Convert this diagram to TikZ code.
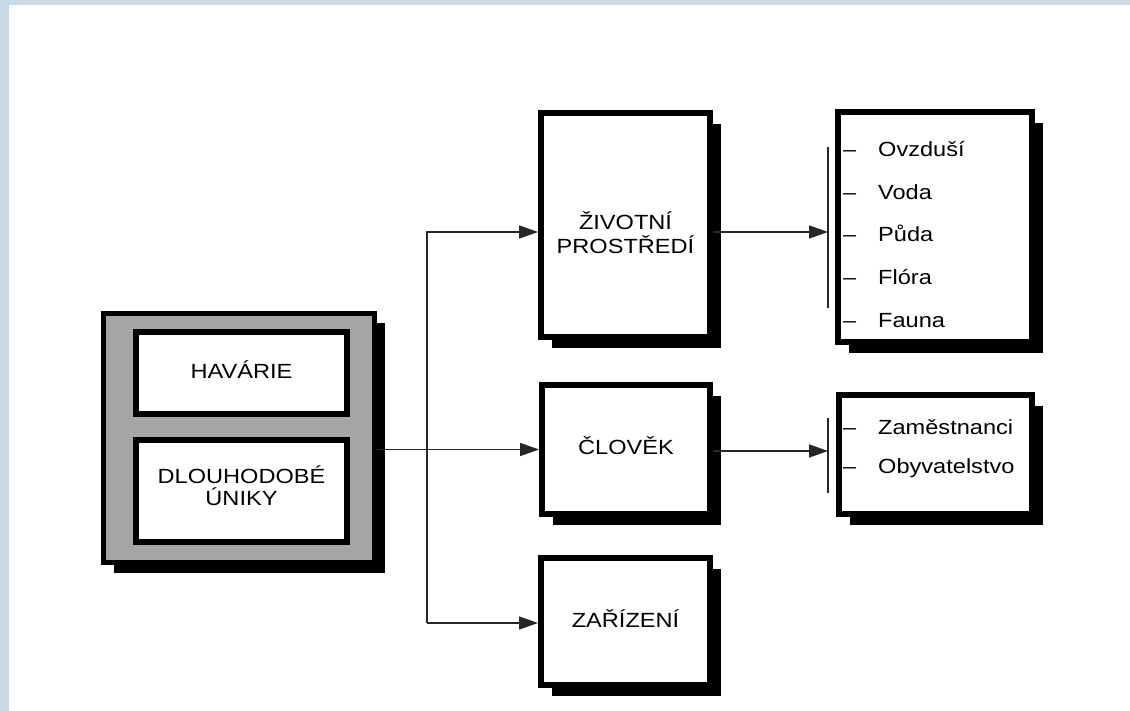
\documentclass[tikz,border=0pt]{standalone}
\usepackage{fontspec}
\setmainfont{Liberation Sans}[FakeStretch=1.15]
\usetikzlibrary{arrows.meta,shadows}
\definecolor{frameblue}{RGB}{201,218,230}
\definecolor{boxgray}{RGB}{165,165,165}
\begin{document}
\begin{tikzpicture}[x=1pt,y=-1pt,
  sbox/.style={rectangle, draw=black, line width=6pt, fill=white, inner sep=0pt,
    drop shadow={shadow xshift=11pt, shadow yshift=-11pt, fill=black, opacity=1}},
  ibox/.style={rectangle, draw=black, line width=6pt, fill=white, inner sep=0pt},
  lbl/.style={font=\fontsize{20.5}{24}\selectfont, inner sep=0pt, anchor=base},
  item/.style={font=\fontsize{20.5}{24}\selectfont, inner sep=0pt, anchor=base west},
  conn/.style={line width=1.6pt, draw=black!85},
  arr/.style={conn, -{Triangle[length=19pt,width=13pt]}},
  bar/.style={line width=1.8pt, draw=black!85}]
\useasboundingbox (0,0) rectangle (1130,711);
\fill[frameblue] (0,0) rectangle (1130,5);
\fill[frameblue] (0,0) rectangle (9,711);

% left composite box
\node[rectangle, draw=black, line width=5pt, fill=boxgray, inner sep=0pt,
  minimum width=271pt, minimum height=249pt,
  drop shadow={shadow xshift=10pt, shadow yshift=-10pt, fill=black, opacity=1}] (main) at (239,438) {};
\node[ibox, minimum width=211pt, minimum height=82pt] (havarie) at (241.5,373) {};
\node[ibox, minimum width=211pt, minimum height=102pt] (dlouho) at (241.5,491) {};
\node[lbl] (thav) at (241.5,378) {HAVÁRIE};
\node[lbl] (tdl1) at (241.5,483) {DLOUHODOBÉ};
\node[lbl] (tdl2) at (241.5,505) {ÚNIKY};

% middle boxes
\node[sbox, minimum width=169pt, minimum height=224pt] (zivot) at (625.5,225) {};
\node[lbl] (tziv1) at (625.5,230) {ŽIVOTNÍ};
\node[lbl] (tziv2) at (625.5,254) {PROSTŘEDÍ};
\node[sbox, minimum width=168pt, minimum height=129pt] (clovek) at (626,449.5) {};
\node[lbl] (tclo) at (626,454) {ČLOVĚK};
\node[sbox, minimum width=169pt, minimum height=127pt] (zarizeni) at (625.5,621.5) {};
\node[lbl] (tzar) at (625.5,627) {ZAŘÍZENÍ};

% right boxes
\node[sbox, minimum width=194pt, minimum height=230pt] (list1) at (935,227) {};
\node[item] (d1) at (843,157) {–};
\node[item] (i1) at (878,157) {Ovzduší};
\node[item] (d2) at (843,199.5) {–};
\node[item] (i2) at (878,199.5) {Voda};
\node[item] (d3) at (843,242) {–};
\node[item] (i3) at (878,242) {Půda};
\node[item] (d4) at (843,284.5) {–};
\node[item] (i4) at (878,284.5) {Flóra};
\node[item] (d5) at (843,327) {–};
\node[item] (i5) at (878,327) {Fauna};

\node[sbox, minimum width=193pt, minimum height=119pt] (list2) at (935.5,454.5) {};
\node[item] (d6) at (843,434) {–};
\node[item] (i6) at (878,434) {Zaměstnanci};
\node[item] (d7) at (843,473) {–};
\node[item] (i7) at (878,473) {Obyvatelstvo};

% connectors
\coordinate (zy) at (427,232);
\coordinate (zary) at (427,623);
\draw[arr] (main.east |- clovek.west) -- (clovek.west);
\draw[arr] (zary) -- (zy) -- (zy -| zivot.west);
\draw[arr] (zary) -- (zary -| zarizeni.west);

\coordinate (b1) at (828,232);
\coordinate (b1t) at (828,147);
\coordinate (b1b) at (828,308);
\draw[bar] (b1t) -- (b1b);
\draw[arr] (b1 -| zivot.east) -- (b1);

\coordinate (b2) at (828,451);
\coordinate (b2t) at (828,418);
\coordinate (b2b) at (828,493);
\draw[bar] (b2t) -- (b2b);
\draw[arr] (b2 -| clovek.east) -- (b2);
\end{tikzpicture}
\end{document}
